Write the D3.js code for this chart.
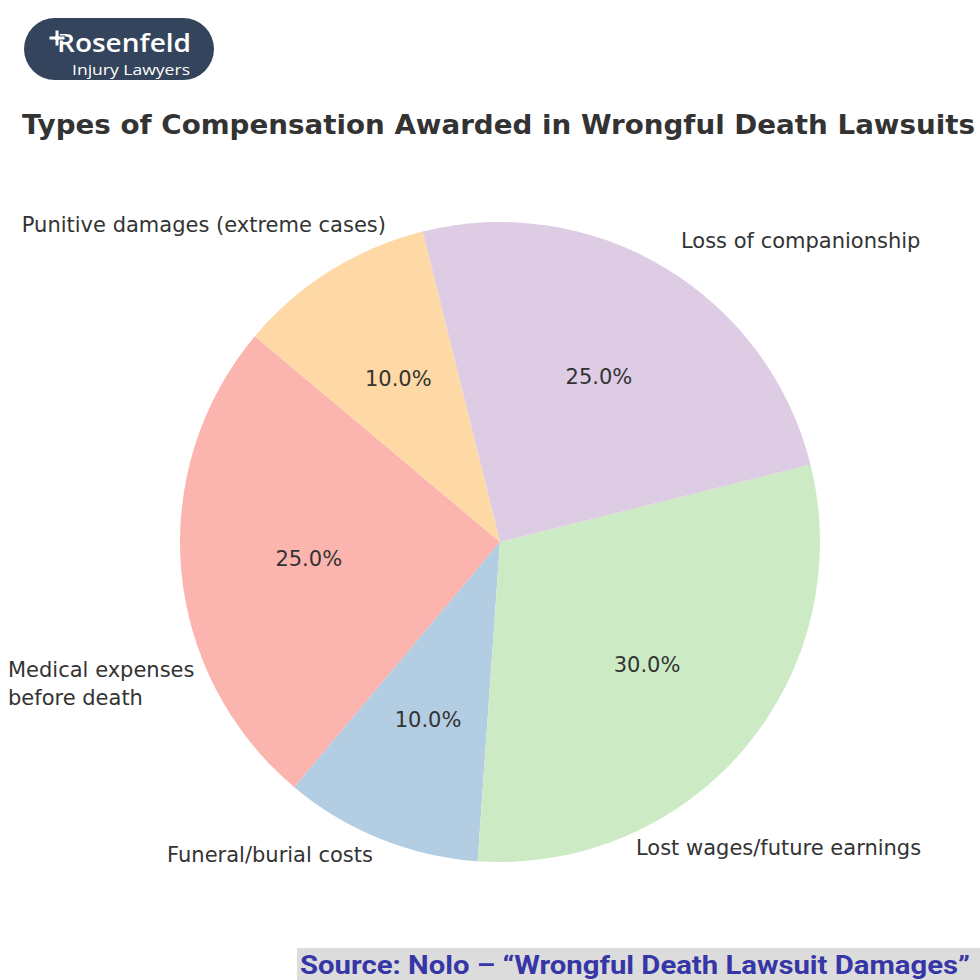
<!DOCTYPE html>
<html><head><meta charset="utf-8">
<script src="https://cdn.jsdelivr.net/npm/d3@7"></script>
<style>body{margin:0;background:#fff}svg{display:block}</style>
</head><body>
<script>
const categories = ["Medical expenses\nbefore death", "Funeral/burial costs", "Lost wages/future earnings", "Loss of companionship", "Punitive damages (extreme cases)"];
const values = [25, 10, 30, 25, 10];
const colors = ["#fbb4ae", "#b3cde3", "#ccebc5", "#decbe4", "#fed9a6"];

const W = 980, H = 980;
const svg = d3.select("body").append("svg").attr("width", W).attr("height", H);

// Logo
const logo = svg.append("g");
logo.append("rect").attr("x", 24).attr("y", 18).attr("width", 190).attr("height", 62).attr("rx", 31).attr("fill", "#34445c");
logo.append("text").attr("x", 57).attr("y", 52).attr("fill", "#fff").attr("font-family", "Open Sans").attr("font-weight", 600)
  .attr("font-size", 25).attr("textLength", 134).attr("lengthAdjust", "spacingAndGlyphs").text("Rosenfeld");
logo.append("path").attr("d", "M49,36h6v-6h4v6h6v4h-6v6h-4v-6h-6z").attr("fill", "#fff").attr("stroke", "#34445c").attr("stroke-width", 1);
logo.append("text").attr("x", 72).attr("y", 75).attr("fill", "#fff").attr("font-family", "Open Sans")
  .attr("font-size", 15).attr("textLength", 118).attr("lengthAdjust", "spacingAndGlyphs").text("Injury Lawyers");

// Title
svg.append("text").attr("x", 22).attr("y", 134).attr("fill", "#333").attr("font-family", "DejaVu Sans").attr("font-weight", "bold")
  .attr("font-size", 27).attr("textLength", 953).attr("lengthAdjust", "spacingAndGlyphs")
  .text("Types of Compensation Awarded in Wrongful Death Lawsuits");

// Pie
const cx = 500, cy = 542, R = 320;
const startDeg = 140; // matplotlib-style start angle, counterclockwise
const pie = d3.pie().sort(null).value(d => d)
  .startAngle((90 - startDeg) * Math.PI / 180)
  .endAngle((90 - startDeg - 360) * Math.PI / 180);
const arcs = pie(values);
const arc = d3.arc().innerRadius(0).outerRadius(R);
const g = svg.append("g").attr("transform", `translate(${cx},${cy})`);
g.selectAll("path").data(arcs).join("path").attr("d", arc).attr("fill", (d, i) => colors[i]);

const total = d3.sum(values);
g.selectAll("text.pct").data(arcs).join("text").attr("class", "pct")
  .each(function(d) {
    const a = (d.startAngle + d.endAngle) / 2;
    const r = 0.6 * R;
    d3.select(this).attr("x", r * Math.sin(a)).attr("y", -r * Math.cos(a));
  })
  .attr("text-anchor", "middle").attr("dominant-baseline", "central")
  .attr("font-family", "DejaVu Sans").attr("font-size", 21).attr("fill", "#333")
  .text(d => (d.value / total * 100).toFixed(1) + "%");

// Category labels (positions as placed in the reference image)
const labelLayout = [
  {x: 8, y: 670, anchor: "start"},
  {x: 373, y: 855, anchor: "end"},
  {x: 636, y: 848, anchor: "start"},
  {x: 681, y: 241, anchor: "start"},
  {x: 386, y: 225, anchor: "end"}
];
categories.forEach((c, i) => {
  const L = labelLayout[i];
  const t = svg.append("text").attr("x", L.x).attr("y", L.y).attr("text-anchor", L.anchor)
    .attr("font-family", "DejaVu Sans").attr("font-size", 21).attr("fill", "#333");
  c.split("\n").forEach((line, j) => {
    t.append("tspan").attr("x", L.x).attr("y", L.y + j * 28).attr("dominant-baseline", "central").text(line);
  });
});

// Source
svg.append("rect").attr("x", 297).attr("y", 948).attr("width", 683).attr("height", 32).attr("fill", "#dcdcdc");
svg.append("text").attr("x", 300).attr("y", 974).attr("fill", "#3636a6").attr("font-family", "Roboto").attr("font-weight", "bold")
  .attr("font-size", 26).attr("textLength", 670).attr("lengthAdjust", "spacingAndGlyphs")
  .text("Source: Nolo \u2013 \u201cWrongful Death Lawsuit Damages\u201d");
</script>
</body></html>
